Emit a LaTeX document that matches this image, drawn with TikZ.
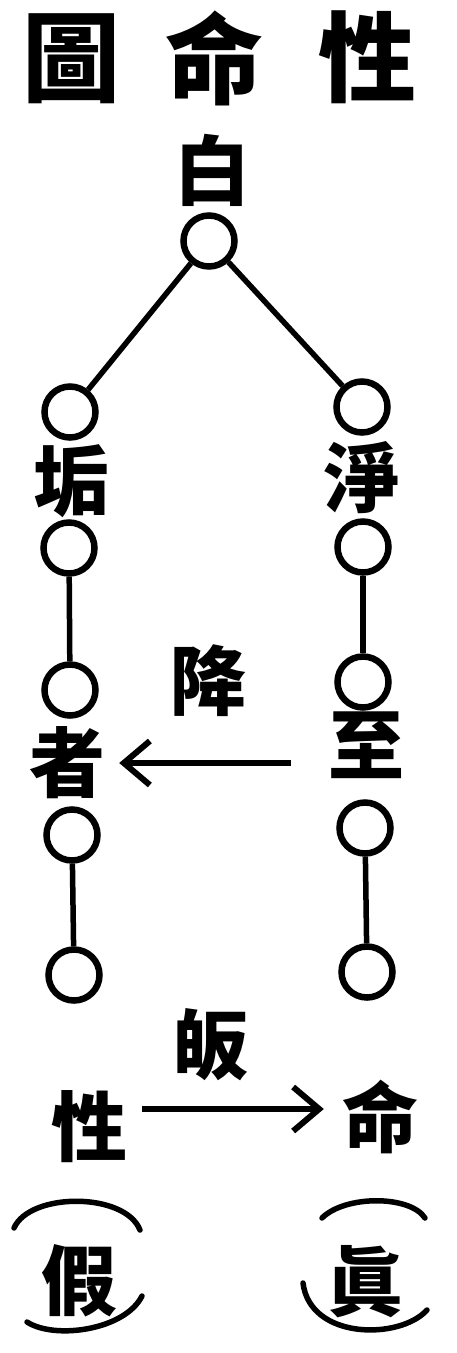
\documentclass[tikz,border=0pt]{standalone}
\usepackage{fontspec}
\newfontfamily\cjk{Noto Sans CJK TC}
\usetikzlibrary{arrows.meta}
\begin{document}
\begin{tikzpicture}[x=1pt,y=-1pt,
  big/.style={font=\cjk\bfseries\fontsize{98}{98}\selectfont,inner sep=0pt},
  word/.style={font=\cjk\bfseries\fontsize{76}{76}\selectfont,inner sep=0pt},
  ring/.style={circle,draw,line width=6.5pt,inner sep=0pt,minimum size=51pt},
  link/.style={line width=5.5pt},
  arr/.style={line width=6pt,-{Straight Barb[length=26pt,width=44pt,line width=6pt]}},
  paren/.style={line width=5.5pt,line cap=round}]
\useasboundingbox (0,0) rectangle (456,1353);
\node[big] (tu) at (71,59){圖};
\node[big] (ming) at (214,58){命};
\node[big] (xing) at (367,57){性};
\node[word] (bai) at (212,170){白};
\node[ring] (top) at (209,241){};
\node[ring] (l1) at (70,412){};
\node[ring] (r1) at (362,407){};
\draw[link] (top) -- (l1);
\draw[link] (top) -- (r1);
\node[word] (gou) at (72,481){垢};
\node[word] (jing) at (362,478){淨};
\node[ring] (l2) at (69,548){};
\node[ring] (l3) at (70,690){};
\draw[link] (l2) -- (l3);
\node[ring] (r2) at (363,547){};
\node[ring] (r3) at (363,682){};
\draw[link] (r2) -- (r3);
\node[word] (jiang) at (208,681){降};
\node[word] (zhe) at (68,763){者};
\node[word] (zhi) at (366,745){至};
\draw[arr,shorten <=37pt,shorten >=13pt] ([yshift=-18pt]zhi.west) -- (zhe.east);
\node[ring] (l4) at (72,835){};
\node[ring] (l5) at (74,975){};
\draw[link] (l4) -- (l5);
\node[ring] (r4) at (365,828){};
\node[ring] (r5) at (367,972){};
\draw[link] (r4) -- (r5);
\node[word] (gui) at (210,1045){皈};
\node[word] (xing2) at (89,1127){性};
\node[word] (ming2) at (380,1117){命};
\draw[arr,shorten <=15pt,shorten >=18pt] ([yshift=18pt]xing2.east) -- ([yshift=8pt]ming2.west);
\draw[paren] (14,1228) .. controls (30,1192) and (125,1192) .. (140,1230);
\node[word] (jia) at (79,1281){假};
\draw[paren] (27,1322) .. controls (55,1340) and (125,1330) .. (142,1296);
\draw[paren] (322,1218) .. controls (345,1195) and (410,1195) .. (425,1218);
\node[word] (zhen) at (365,1282){眞};
\draw[paren] (303,1283) .. controls (310,1340) and (400,1340) .. (427,1310);
\end{tikzpicture}
\end{document}
